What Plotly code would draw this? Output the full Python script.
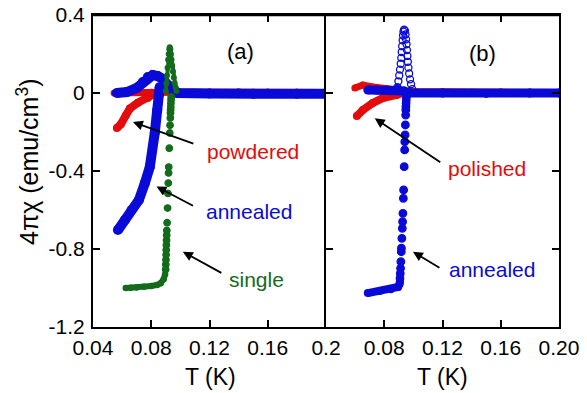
import plotly.graph_objects as go

# ---------------- Panel (a) ----------------
single_plateau_T = [0.0625, 0.066, 0.070, 0.075, 0.080, 0.084, 0.0865, 0.0885, 0.0895]
single_plateau_chi = [-1.0, -0.999, -0.997, -0.994, -0.99, -0.984, -0.975, -0.955, -0.93]
single_vert_T = [0.0899, 0.0900, 0.0901, 0.0902, 0.0903, 0.0904, 0.0905, 0.0906, 0.0907, 0.0909,
                 0.0912, 0.0915, 0.0917, 0.0919, 0.0920, 0.0924, 0.0927, 0.0929, 0.0931, 0.0932,
                 0.0933, 0.0934, 0.0935, 0.0936, 0.0937]
single_vert_chi = [-0.905, -0.88, -0.855, -0.83, -0.805, -0.78, -0.755, -0.73, -0.705, -0.665,
                   -0.59, -0.515, -0.462, -0.41, -0.38, -0.283, -0.205, -0.165, -0.128, -0.103,
                   -0.087, -0.072, -0.052, -0.035, -0.02]
single_spike_T = [0.0900, 0.0904, 0.0908, 0.0912, 0.0916, 0.0920, 0.0924, 0.0927, 0.0931, 0.0935,
                  0.0939, 0.0944, 0.0949, 0.0955, 0.0961, 0.0967, 0.0973]
single_spike_chi = [0.01, 0.05, 0.09, 0.13, 0.17, 0.20, 0.225, 0.235, 0.225, 0.20,
                    0.17, 0.14, 0.11, 0.08, 0.05, 0.03, 0.01]
single_flat_T = [0.097, 0.2]
single_flat_chi = [0.0, 0.0]

powder_low_T = [0.0564, 0.0591, 0.0625, 0.0653, 0.0708, 0.0776, 0.0824, 0.0845]
powder_low_chi = [-0.18, -0.16, -0.115, -0.08, -0.05, -0.025, -0.008, 0.005]
powder_up_T = [0.0545, 0.06, 0.07, 0.08, 0.09, 0.10, 0.12, 0.14, 0.16, 0.18, 0.2]
powder_up_chi = [0.0, 0.002, 0.003, 0.004, 0.004, 0.004, 0.004, 0.006, 0.005, 0.004, 0.003]

anneal_a_low_T = [0.0571, 0.0619, 0.0665, 0.0715, 0.0756, 0.079, 0.0824, 0.0841, 0.0851, 0.0858]
anneal_a_low_chi = [-0.703, -0.651, -0.60, -0.549, -0.462, -0.379, -0.205, -0.087, -0.01, 0.03]
anneal_a_up_T = [0.0564, 0.0632, 0.0701, 0.0742, 0.0776, 0.081, 0.0844, 0.0879, 0.0913, 0.0947,
                 0.0981, 0.12, 0.15, 0.18, 0.2]
anneal_a_up_chi = [0.0, 0.005, 0.026, 0.056, 0.082, 0.092, 0.087, 0.072, 0.041, 0.015,
                   0.0, -0.003, -0.004, -0.004, -0.004]

# ---------------- Panel (b) ----------------
polish_low_T = [0.0612, 0.0653, 0.0721, 0.079, 0.0885, 0.0927]
polish_low_chi = [-0.118, -0.087, -0.051, -0.026, -0.01, 0.0]
polish_up_T = [0.0598, 0.0653, 0.0721, 0.0817, 0.0906, 0.10, 0.12, 0.14, 0.16, 0.18, 0.198]
polish_up_chi = [0.026, 0.041, 0.031, 0.02, 0.015, 0.006, 0.006, 0.004, 0.007, 0.004, 0.003]

anneal_b_up_T = [0.0687, 0.075, 0.082, 0.089, 0.0935, 0.096, 0.12, 0.15, 0.18, 0.2]
anneal_b_up_chi = [0.015, 0.015, 0.016, 0.02, 0.01, 0.0, 0.0, -0.002, 0.0, 0.0]
anneal_b_plateau_T = [0.0687, 0.0769, 0.0845, 0.0895, 0.0905, 0.0908]
anneal_b_plateau_chi = [-1.026, -1.015, -1.006, -0.995, -0.98, -0.965]
anneal_b_vert_T = [0.0908, 0.0910, 0.0912, 0.0914, 0.0917, 0.0918, 0.0921, 0.0924, 0.0926, 0.0928,
                   0.0931, 0.0933, 0.0937, 0.0940, 0.0941, 0.0943, 0.0945, 0.0947, 0.0948, 0.0949,
                   0.0950, 0.0951, 0.0952]
anneal_b_vert_chi = [-0.95, -0.925, -0.899, -0.865, -0.814, -0.796, -0.745, -0.694, -0.66, -0.617,
                     -0.54, -0.497, -0.378, -0.292, -0.25, -0.215, -0.164, -0.113, -0.087, -0.07,
                     -0.053, -0.036, -0.02]
anneal_b_open_T = [0.0890, 0.0897, 0.0903, 0.0908, 0.0913, 0.0917, 0.0920, 0.0923, 0.0926, 0.0929,
                   0.0932, 0.0936, 0.0942, 0.0946, 0.0950, 0.0953, 0.0956, 0.0959, 0.0962, 0.0966,
                   0.0971, 0.0977, 0.0984, 0.0992]
anneal_b_open_chi = [0.03, 0.06, 0.09, 0.12, 0.15, 0.18, 0.21, 0.24, 0.27, 0.295,
                     0.315, 0.325, 0.32, 0.30, 0.275, 0.25, 0.22, 0.19, 0.16, 0.13,
                     0.10, 0.07, 0.045, 0.02]

x_a_ticks = [0.04, 0.08, 0.12, 0.16, 0.2]
x_a_ticktext = ["0.04", "0.08", "0.12", "0.16", "0.2"]
x_b_ticks = [0.08, 0.12, 0.16, 0.20]
x_b_ticktext = ["0.08", "0.12", "0.16", "0.20"]
y_ticks = [0.4, 0.0, -0.4, -0.8, -1.2]
y_ticktext = ["0.4", "0", "-0.4", "-0.8", "-1.2"]

RED = "#e30b0b"
BLUE = "#0a0ad8"
GREEN = "#146b1c"
FONT = "Liberation Sans, Arial, Helvetica, sans-serif"

fig = go.Figure()

def band(x, y, color, width, msize, xa="x", ya="y"):
    fig.add_trace(go.Scatter(x=x, y=y, mode="lines+markers", xaxis=xa, yaxis=ya,
                             line=dict(color=color, width=width),
                             marker=dict(color=color, size=msize),
                             showlegend=False, hoverinfo="skip"))

def dots(x, y, color, msize, xa="x", ya="y", symbol="circle"):
    fig.add_trace(go.Scatter(x=x, y=y, mode="markers", xaxis=xa, yaxis=ya,
                             marker=dict(color=color, size=msize, symbol=symbol,
                                         line=dict(color=color, width=1.3)),
                             showlegend=False, hoverinfo="skip"))

# panel a
band(single_flat_T, single_flat_chi, GREEN, 6, 6)
band(powder_up_T, powder_up_chi, RED, 7, 7)
band(powder_low_T, powder_low_chi, RED, 8, 8)
band(anneal_a_up_T, anneal_a_up_chi, BLUE, 10, 10)
band(anneal_a_low_T, anneal_a_low_chi, BLUE, 10, 10)
band(single_plateau_T, single_plateau_chi, GREEN, 6, 6.5)
dots(single_vert_T, single_vert_chi, GREEN, 6.5)
band(single_spike_T, single_spike_chi, GREEN, 4, 6)

# panel b
band(polish_up_T, polish_up_chi, RED, 7, 7, "x2", "y2")
band(polish_low_T, polish_low_chi, RED, 8, 8, "x2", "y2")
band(anneal_b_up_T, anneal_b_up_chi, BLUE, 9, 9, "x2", "y2")
band(anneal_b_plateau_T, anneal_b_plateau_chi, BLUE, 8, 8, "x2", "y2")
dots(anneal_b_vert_T, anneal_b_vert_chi, BLUE, 7.5, "x2", "y2")
dots(anneal_b_open_T, anneal_b_open_chi, BLUE, 7, "x2", "y2", symbol="circle-open")

axis_common = dict(showline=True, linecolor="black", linewidth=2,
                   ticks="inside", ticklen=7, tickwidth=2, tickcolor="black",
                   showgrid=False, zeroline=False, automargin=False,
                   ticklabeloverflow="allow",
                   tickfont=dict(family=FONT, size=21, color="black"))

fig.update_layout(
    width=587, height=393,
    margin=dict(l=93, r=28, t=15, b=66),
    paper_bgcolor="white", plot_bgcolor="white",
    xaxis=dict(domain=[0, 0.5], range=[0.04, 0.2], tickvals=x_a_ticks, ticktext=x_a_ticktext,
               ticklabelstandoff=1, anchor="y", mirror="ticks", **axis_common),
    xaxis2=dict(domain=[0.5, 1], range=[0.04, 0.2], tickvals=x_b_ticks, ticktext=x_b_ticktext,
                ticklabelstandoff=1, anchor="y2", mirror="ticks", **axis_common),
    yaxis=dict(range=[-1.2, 0.4], tickvals=y_ticks, ticktext=y_ticktext, anchor="x",
               ticklabelstandoff=2, mirror=False, **axis_common),
    yaxis2=dict(range=[-1.2, 0.4], tickvals=y_ticks, showticklabels=False, anchor="x2",
                mirror="ticks", **axis_common),
)

# top frame of each panel as a shape on the panel domains
for xr, yr in (("x domain", "y domain"), ("x2 domain", "y2 domain")):
    fig.add_shape(type="line", xref=xr, yref=yr, x0=0, x1=1, y0=1, y1=1,
                  line=dict(color="black", width=2.5), layer="above")

def label(text, x, y, color="black", size=21):
    fig.add_annotation(text=text, x=x, y=y, xref="paper", yref="paper", showarrow=False,
                       xanchor="center", yanchor="middle",
                       font=dict(family=FONT, size=size, color=color))

label("(a)", 0.3155, 0.8846, size=22)
label("(b)", 0.8369, 0.878, size=22)
label("powdered", 0.3433, 0.564, RED)
label("annealed", 0.3337, 0.3686, BLUE)
label("single", 0.3519, 0.1538, GREEN)
label("polished", 0.8455, 0.5096, RED)
label("annealed", 0.8562, 0.1827, BLUE)
label("T (K)", 0.2511, -0.160, size=23)
label("T (K)", 0.749, -0.160, size=23)
fig.add_annotation(text="4πχ (emu/cm<sup>3</sup>)", x=-0.1395, y=0.532, xref="paper", yref="paper",
                   showarrow=False, textangle=-90, xanchor="center", yanchor="middle",
                   font=dict(family=FONT, size=25, color="black"))

def arrow(x, y, ax, ay, xr="x", yr="y"):
    fig.add_annotation(text="", x=x, y=y, xref=xr, yref=yr, ax=ax, ay=ay, axref="pixel", ayref="pixel",
                       showarrow=True, arrowhead=2, arrowsize=1.1, arrowwidth=1.8,
                       arrowcolor="black", standoff=0)

arrow(0.0674, -0.149, 62, 22)
arrow(0.0836, -0.480, 38, 20)
arrow(0.1017, -0.814, 40, 22)
arrow(0.0735, -0.130, 67, 45, "x2", "y2")
arrow(0.0997, -0.814, 28, 17, "x2", "y2")

# remove the default page margin so the figure fills the window exactly
fig.write_html("out.html", config={"displayModeBar": False},
               post_script="document.body.style.margin='0';")
